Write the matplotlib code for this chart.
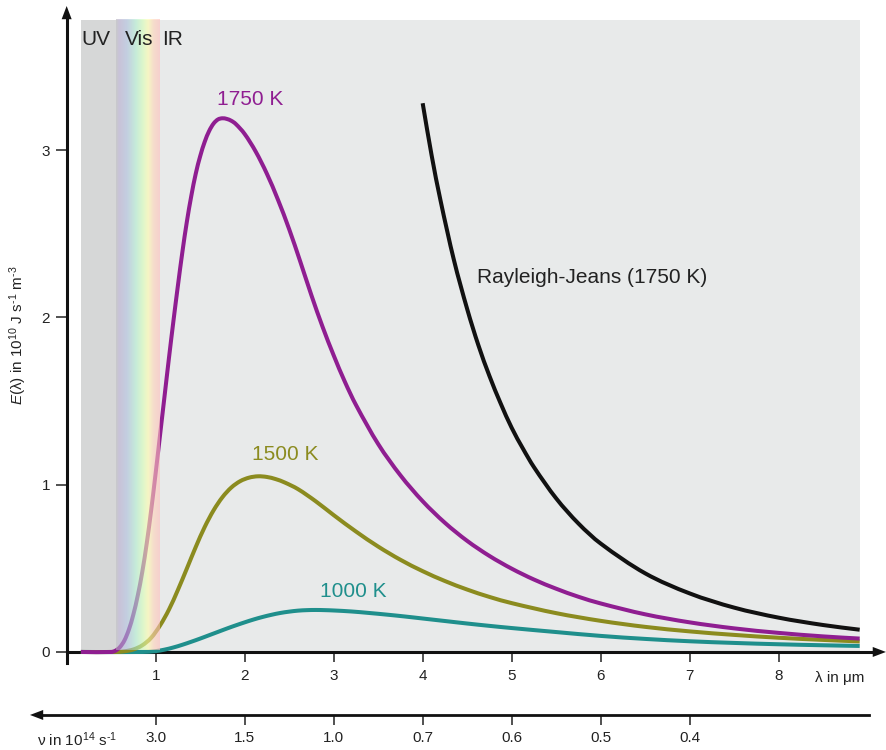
import matplotlib
matplotlib.use("Agg")
import numpy as np
import matplotlib.pyplot as plt
from matplotlib.patches import Rectangle, PathPatch
from matplotlib.path import Path
from matplotlib.colors import LinearSegmentedColormap

plt.rcParams['font.family'] = ['Liberation Sans', 'DejaVu Sans']
plt.rcParams['mathtext.fontset'] = 'custom'
plt.rcParams['mathtext.rm'] = 'Liberation Sans'
plt.rcParams['mathtext.it'] = 'Liberation Sans:italic'

# ---- spectral energy density curves (wavelength in um, E in 1e10 J s^-1 m^-3) ----
lam_1750 = [0.16, 0.50, 0.55, 0.60, 0.65, 0.70, 0.75, 0.80, 0.85, 0.90, 0.95, 1.00,
            1.05, 1.10, 1.15, 1.20, 1.25, 1.30, 1.35, 1.40, 1.45, 1.50, 1.55, 1.60,
            1.65, 1.70, 1.75, 1.80, 1.85, 1.90, 2.00, 2.125, 2.25, 2.375, 2.50, 2.625,
            2.75, 2.875, 3.00, 3.125, 3.25, 3.50, 3.75, 4.00, 4.25, 4.50, 4.75, 5.00,
            5.25, 5.50, 5.75, 6.00, 6.50, 7.00, 7.50, 8.00, 8.50, 8.91]
E_1750 = [0, 0, 0.008, 0.03, 0.07, 0.135, 0.225, 0.34, 0.48, 0.65, 0.85, 1.07,
          1.30, 1.53, 1.76, 1.98, 2.19, 2.39, 2.57, 2.725, 2.858, 2.963, 3.048, 3.113,
          3.158, 3.183, 3.19, 3.186, 3.175, 3.156, 3.096, 2.99, 2.858, 2.702, 2.527, 2.333,
          2.132, 1.944, 1.773, 1.616, 1.477, 1.243, 1.056, 0.901, 0.772, 0.664, 0.574, 0.498,
          0.433, 0.378, 0.330, 0.290, 0.225, 0.177, 0.141, 0.114, 0.093, 0.080]

lam_1500 = [0.16, 0.55, 0.65, 0.75, 0.85, 0.95, 1.05, 1.15, 1.25, 1.35, 1.45, 1.55,
            1.65, 1.75, 1.85, 1.95, 2.05, 2.15, 2.25, 2.35, 2.45, 2.60, 2.80, 3.00,
            3.25, 3.50, 3.75, 4.00, 4.25, 4.50, 4.75, 5.00, 5.50, 6.00, 6.50, 7.00,
            7.50, 8.00, 8.50, 8.91]
E_1500 = [0, 0, 0.004, 0.015, 0.04, 0.085, 0.159, 0.254, 0.371, 0.498, 0.627, 0.746,
          0.846, 0.925, 0.983, 1.021, 1.042, 1.05, 1.046, 1.033, 1.013, 0.973, 0.90, 0.818,
          0.72, 0.63, 0.551, 0.483, 0.424, 0.373, 0.329, 0.292, 0.232, 0.186, 0.150, 0.123,
          0.102, 0.085, 0.072, 0.063]

lam_1000 = [0.16, 0.85, 1.00, 1.10, 1.20, 1.30, 1.40, 1.50, 1.60, 1.70, 1.80, 1.90,
            2.00, 2.10, 2.20, 2.30, 2.40, 2.50, 2.60, 2.70, 2.80, 2.90, 3.00, 3.20,
            3.40, 3.60, 3.80, 4.00, 4.25, 4.50, 4.75, 5.00, 5.50, 6.00, 6.50, 7.00,
            7.50, 8.00, 8.50, 8.91]
E_1000 = [0, 0, 0.005, 0.014, 0.027, 0.043, 0.061, 0.08, 0.10, 0.12, 0.14, 0.159,
          0.177, 0.194, 0.209, 0.222, 0.233, 0.241, 0.247, 0.25, 0.251, 0.25, 0.248, 0.242,
          0.233, 0.223, 0.212, 0.2, 0.185, 0.17, 0.156, 0.143, 0.119, 0.096, 0.078, 0.064,
          0.054, 0.046, 0.040, 0.036]

lam_rj = [4.00, 4.10, 4.20, 4.35, 4.50, 4.625, 4.75, 4.875, 5.00, 5.125, 5.25, 5.50,
          5.75, 6.00, 6.50, 7.00, 7.50, 8.00, 8.50, 8.91]
E_rj = [3.28, 2.97, 2.70, 2.345, 2.05, 1.835, 1.65, 1.487, 1.34, 1.217, 1.105, 0.918,
        0.768, 0.648, 0.47, 0.35, 0.265, 0.205, 0.161, 0.133]

lam_ticks = [1, 2, 3, 4, 5, 6, 7, 8]
E_ticks = [0, 1, 2, 3]
nu_tick_pos = [1, 2, 3, 4, 5, 6, 7]
nu_tick_labels = ['3.0', '1.5', '1.0', '0.7', '0.6', '0.5', '0.4']

# spectral bands: (start, end) in um
uv_band = (0.16, 0.55)
vis_band = (0.55, 1.04)
panel_right = 8.91
panel_top = 3.78

C_1750 = '#8f1e91'
C_1500 = '#8b8b1f'
C_1000 = '#1f8f8c'
C_RJ = '#111111'
INK = '#222222'
PANEL = '#e8eaea'


def smooth_curve(xs, ys):
    """Cubic Bezier path passing through every (x, y) sample."""
    xs = np.asarray(xs, float)
    ys = np.asarray(ys, float)
    m = np.empty_like(ys)
    m[0] = (ys[1] - ys[0]) / (xs[1] - xs[0])
    m[-1] = (ys[-1] - ys[-2]) / (xs[-1] - xs[-2])
    m[1:-1] = (ys[2:] - ys[:-2]) / (xs[2:] - xs[:-2])
    verts = [(xs[0], ys[0])]
    codes = [Path.MOVETO]
    for i in range(len(xs) - 1):
        h = xs[i + 1] - xs[i]
        verts += [(xs[i] + h / 3, ys[i] + m[i] * h / 3),
                  (xs[i + 1] - h / 3, ys[i + 1] - m[i + 1] * h / 3),
                  (xs[i + 1], ys[i + 1])]
        codes += [Path.CURVE4] * 3
    return Path(verts, codes)


fig = plt.figure(figsize=(8.87, 7.5), dpi=100)
ax = fig.add_axes([0, 0, 1, 1])
ax.patch.set_visible(False)

# shaded panel and UV band
ax.add_patch(Rectangle((uv_band[0], 0), panel_right - uv_band[0], panel_top,
                       facecolor=PANEL, edgecolor='none', zorder=0))
ax.add_patch(Rectangle((uv_band[0], 0), uv_band[1] - uv_band[0], panel_top,
                       facecolor='#d6d7d7', edgecolor='none', zorder=0.2))

lw = 2.9
for xs, ys, col in ((lam_1000, E_1000, C_1000), (lam_1500, E_1500, C_1500),
                    (lam_1750, E_1750, C_1750), (lam_rj, E_rj, C_RJ)):
    ax.add_patch(PathPatch(smooth_curve(xs, ys), fill=False, edgecolor=col, lw=lw,
                           capstyle='butt', joinstyle='round', zorder=3))

# translucent visible-light rainbow laid over the curves
rainbow = LinearSegmentedColormap.from_list('vis', [
    (0.00, '#b4b4b6'), (0.07, '#b4a9cc'), (0.25, '#abbddb'), (0.45, '#afeccf'),
    (0.60, '#d2ffb8'), (0.73, '#ffffab'), (0.86, '#ffd3b8'), (1.00, '#ffbfbb')])
ax.imshow(np.linspace(0, 1, 256)[None, :], cmap=rainbow, aspect='auto', alpha=0.6,
          extent=(vis_band[0], vis_band[1], 0.012, panel_top), zorder=3.5,
          interpolation='bilinear')

ax.set_xlim(-0.749, 9.217)
ax.set_ylim(-0.586, 3.897)

# axes drawn through the origin
for s in ('top', 'right'):
    ax.spines[s].set_visible(False)
ax.spines['left'].set_position(('data', 0))
ax.spines['bottom'].set_position(('data', 0))
ax.spines['left'].set_bounds(-0.066, 3.78)
ax.spines['bottom'].set_bounds(0, 9.1)
for s in ('left', 'bottom'):
    ax.spines[s].set_linewidth(2.2)
    ax.spines[s].set_color('#111111')
    ax.spines[s].set_zorder(2.5)

ax.set_xticks(lam_ticks)
ax.set_yticks(E_ticks)
ax.tick_params(axis='x', direction='out', length=7.3, width=1.1, pad=5,
               labelsize=11, color=INK, labelcolor=INK)
ax.tick_params(axis='y', direction='out', length=8, width=1.1, pad=4,
               labelsize=11, color=INK, labelcolor=INK)

head = dict(arrowstyle='-|>,head_length=0.95,head_width=0.36', lw=0,
            color='#111111', shrinkA=0, shrinkB=0)
ax.annotate('', xy=(0, 3.861), xytext=(0, 3.6), arrowprops=head, annotation_clip=False)
ax.annotate('', xy=(9.205, 0), xytext=(8.9, 0), arrowprops=head, annotation_clip=False)

# frequency scale below the wavelength axis
nu_y = -0.3766
sec = ax.secondary_xaxis(nu_y, transform=ax.transData)
sec.set_xticks(nu_tick_pos, labels=nu_tick_labels)
sec.spines['bottom'].set_linewidth(2.0)
sec.spines['bottom'].set_color('#111111')
sec.spines['bottom'].set_bounds(-0.3, 9.015)
sec.tick_params(axis='x', direction='out', length=7.5, width=1.1, pad=4,
                labelsize=11, color=INK, labelcolor=INK)
ax.annotate('', xy=(-0.412, nu_y), xytext=(-0.1, nu_y), arrowprops=head,
            annotation_clip=False)

# labels
ax.text(8.405, -0.155, 'λ in μm', fontsize=11, color=INK, ha='left', va='center')
ax.text(-0.334, -0.526, 'ν in 10$^{14}$ s$^{\u2010 1}$', fontsize=11, color=INK,
        ha='left', va='center')
ax.text(-0.547, 1.895, '$E$(λ) in 10$^{10}$ J s$^{\u2010 1}$ m$^{\u2010 3}$', fontsize=11,
        color=INK, rotation=90, ha='center', va='center')

ax.text(2.065, 3.305, '1750 K', fontsize=15, color=C_1750, ha='center', va='center')
ax.text(2.458, 1.183, '1500 K', fontsize=15, color=C_1500, ha='center', va='center')
ax.text(3.22, 0.36, '1000 K', fontsize=15, color=C_1000, ha='center', va='center')
ax.text(4.605, 2.237, 'Rayleigh-Jeans (1750 K)', fontsize=15, color=INK,
        ha='left', va='center')

ax.text(0.33, 3.658, 'UV', fontsize=15, color=INK, ha='center', va='center', zorder=4)
ax.text(0.81, 3.658, 'Vis', fontsize=15, color=INK, ha='center', va='center', zorder=4)
ax.text(1.19, 3.658, 'IR', fontsize=15, color=INK, ha='center', va='center', zorder=4)

fig.savefig('out.png', dpi=100)
